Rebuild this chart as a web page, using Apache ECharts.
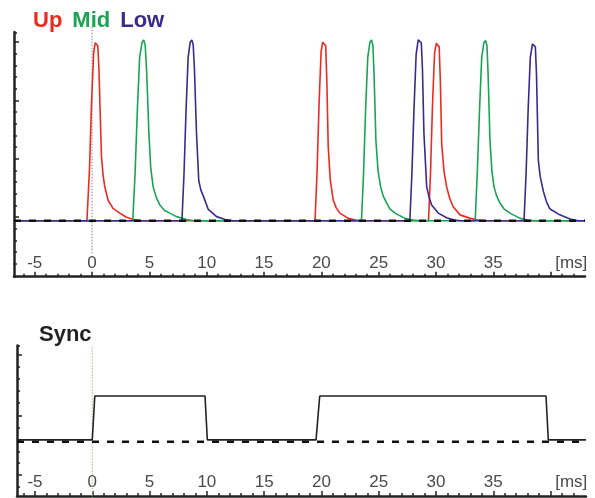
<!DOCTYPE html>
<html>
<head>
<meta charset="utf-8">
<script src="https://cdn.jsdelivr.net/npm/echarts@6/dist/echarts.min.js"></script>
<style>
html,body{margin:0;padding:0;background:#fff;}
#main{width:595px;height:498px;}
</style>
</head>
<body>
<div id="main"></div>
<script>
// ---- data ----
const seriesNames = ['Up', 'Mid', 'Low'];
const upData = [
  [-6.81,0],[-0.45,0],[-0.22,0.9],[-0.05,2.0],[0.14,2.88],[0.27,3.05],[0.38,3.07],[0.5,3.0],[0.6,2.6],[0.7,1.9],[0.82,1.1],[0.96,0.78],[1.11,0.58],[1.4,0.35],[1.83,0.21],[2.42,0.13],[3.0,0.06],[3.6,0.02],[4.3,0],
  [19.45,0],[19.62,0.8],[19.8,2.0],[19.98,2.9],[20.12,3.06],[20.25,3.09],[20.38,3.0],[20.48,2.4],[20.6,1.27],[20.78,0.7],[21.04,0.35],[21.3,0.22],[21.62,0.13],[22.35,0.04],[23.0,0.01],[23.6,0],
  [29.35,0],[29.52,0.8],[29.7,2.0],[29.88,2.88],[30.03,3.04],[30.15,3.06],[30.28,2.98],[30.38,2.4],[30.5,1.32],[30.7,0.85],[30.93,0.58],[31.2,0.38],[31.5,0.24],[32.1,0.1],[33.0,0.04],[33.7,0.01],[34.3,0],
  [43.0,0]
];
const midData = [
  [-6.81,0],[3.55,0],[3.75,0.8],[3.95,1.9],[4.15,2.8],[4.35,3.05],[4.51,3.1],[4.64,3.0],[4.75,2.6],[4.85,2.1],[4.95,1.53],[5.12,0.9],[5.33,0.58],[5.6,0.4],[5.91,0.27],[6.3,0.18],[6.78,0.13],[7.37,0.07],[8.24,0.02],[8.9,0],
  [23.5,0],[23.68,0.8],[23.86,1.9],[24.05,2.8],[24.24,3.06],[24.38,3.1],[24.5,3.0],[24.6,2.5],[24.76,1.38],[24.95,0.85],[25.17,0.58],[25.4,0.42],[25.7,0.3],[26.0,0.2],[26.42,0.13],[27.3,0.04],[28.0,0.01],[28.6,0],
  [33.42,0],[33.6,0.8],[33.8,1.9],[33.99,2.8],[34.18,3.05],[34.33,3.09],[34.45,3.0],[34.55,2.5],[34.71,1.38],[34.88,0.85],[35.06,0.58],[35.3,0.42],[35.59,0.3],[35.95,0.2],[36.46,0.13],[37.33,0.04],[38.0,0.01],[38.6,0],
  [43.0,0]
];
const lowData = [
  [-6.81,0],[7.84,0],[8.02,0.8],[8.2,1.9],[8.38,2.8],[8.56,3.06],[8.7,3.1],[8.82,3.02],[8.93,2.6],[9.02,2.05],[9.11,1.5],[9.31,0.68],[9.5,0.52],[9.75,0.4],[10.12,0.2],[10.86,0.07],[11.6,0.02],[12.3,0],
  [27.72,0],[27.9,0.8],[28.08,1.9],[28.27,2.85],[28.45,3.1],[28.6,3.13],[28.72,3.05],[28.82,2.6],[28.95,1.5],[29.19,0.58],[29.4,0.4],[29.62,0.27],[30.2,0.13],[30.93,0.05],[31.6,0.01],[32.2,0],
  [37.68,0],[37.86,0.8],[38.04,1.9],[38.23,2.8],[38.42,3.03],[38.55,3.06],[38.67,2.98],[38.77,2.5],[38.93,1.03],[39.1,0.75],[39.37,0.5],[39.65,0.32],[39.95,0.2],[40.8,0.1],[41.7,0.03],[42.4,0],
  [43.0,0]
];
const syncData = [
  [-6.57,0.03],[0.0,0.03],[0.22,0.76],[9.84,0.76],[10.04,0.03],[19.53,0.03],[19.85,0.76],[39.6,0.76],[39.8,0.03],[43.09,0.03]
];
const topBaseline = [[-6.81,0],[43.0,0]];
const bottomBaseline = [[-6.57,0],[43.09,0]];
const topMarker = [[0,-0.56],[0,3.32]];
const bottomMarker = [[0,-0.95],[0,1.6]];

// tick values and labels
const xMinorTicks = [-6,-4,-3,-2,-1,1,2,3,4,6,7,8,9,11,12,13,14,16,17,18,19,21,22,23,24,26,27,28,29,31,32,33,34,36,37,38,39,41,42];
const xMajorTicks = [-5,0,5,10,15,20,25,30,35,40];
const xLabelValues = [-5,0,5,10,15,20,25,30,35,41.8];
const xLabelTexts = ['-5','0','5','10','15','20','25','30','35','[ms]'];
const topYMinorTicks = [-0.74,-0.54,-0.34,-0.14,0.26,0.46,0.66,0.86,1.26,1.46,1.66,1.86,2.26,2.46,2.66,2.86,3.23];
const topYMajorTicks = [0.06,1.06,2.06,3.06];
const botYMinorTicks = [-0.755,-0.355,-0.165,0.035,0.235,0.645,0.845,1.045,1.245,1.6];
const botYMajorTicks = [-0.555,0.435,1.445];

const colors = { Up:'#ee2a1e', Mid:'#19a453', Low:'#3a2a8c' };
const FONT = 'Liberation Sans, Arial, sans-serif';

function xAxisPair(gridIndex, min, max) {
  return [
    {
      type:'value', gridIndex, min, max, position:'bottom',
      axisLine:{show:true, onZero:false, lineStyle:{color:'#222', width:2.5}},
      axisTick:{show:true, inside:true, length:3, customValues:xMinorTicks, lineStyle:{color:'#222', width:1.5}},
      axisLabel:{show:true, inside:true, margin:5, customValues:xLabelValues,
        formatter:function(v){ const i = xLabelValues.indexOf(v); return i>=0 ? xLabelTexts[i] : ''; },
        color:'#4a4a4a', fontSize:17, fontFamily:FONT},
      splitLine:{show:false}
    },
    {
      type:'value', gridIndex, min, max, position:'bottom',
      axisLine:{show:false, onZero:false},
      axisTick:{show:true, inside:true, length:5, customValues:xMajorTicks, lineStyle:{color:'#222', width:1.5}},
      axisLabel:{show:false},
      splitLine:{show:false}
    }
  ];
}
function yAxisPair(gridIndex, min, max, minor, major) {
  return [
    {
      type:'value', gridIndex, min, max, position:'left',
      axisLine:{show:true, onZero:false, lineStyle:{color:'#222', width:2.5}},
      axisTick:{show:true, inside:true, length:3, customValues:minor, lineStyle:{color:'#222', width:1.5}},
      axisLabel:{show:false}, splitLine:{show:false}
    },
    {
      type:'value', gridIndex, min, max, position:'left',
      axisLine:{show:false, onZero:false},
      axisTick:{show:true, inside:true, length:5, customValues:major, lineStyle:{color:'#222', width:1.5}},
      axisLabel:{show:false}, splitLine:{show:false}
    }
  ];
}

const lineBase = { type:'line', showSymbol:false, symbol:'none', animation:false, silent:true };

const option = {
  animation:false,
  backgroundColor:'#fff',
  title:{ text:'Sync', left:39, top:324, padding:0,
    textStyle:{ color:'#222', fontSize:22, fontWeight:'bold', fontFamily:FONT } },
  legend:{
    data: seriesNames.map(n => ({ name:n, icon:'none', textStyle:{ color:colors[n] } })),
    left:28, top:10, itemWidth:0, itemHeight:10, itemGap:5, padding:0,
    selectedMode:false,
    textStyle:{ fontSize:22, fontWeight:'bold', fontFamily:FONT }
  },
  grid:[
    { left:14, top:32, width:571, height:244.7 },
    { left:17, top:345.5, width:569, height:150.5 }
  ],
  xAxis:[ ...xAxisPair(0, -6.81, 43.0), ...xAxisPair(1, -6.57, 43.09) ],
  yAxis:[ ...yAxisPair(0, -0.96, 3.235, topYMinorTicks, topYMajorTicks),
          ...yAxisPair(1, -0.905, 1.6, botYMinorTicks, botYMajorTicks) ],
  series:[
    { ...lineBase, name:'marker0', xAxisIndex:0, yAxisIndex:0, data:topMarker, clip:false,
      lineStyle:{ color:'#999', width:1.2, type:[1.5,1.5] }, z:1 },
    { ...lineBase, name:'Up', xAxisIndex:0, yAxisIndex:0, data:upData, color:colors.Up,
      lineStyle:{ color:colors.Up, width:1.6 }, z:2 },
    { ...lineBase, name:'Mid', xAxisIndex:0, yAxisIndex:0, data:midData, color:colors.Mid,
      lineStyle:{ color:colors.Mid, width:1.6 }, z:3 },
    { ...lineBase, name:'Low', xAxisIndex:0, yAxisIndex:0, data:lowData, color:colors.Low,
      lineStyle:{ color:colors.Low, width:1.6 }, z:4 },
    { ...lineBase, name:'base0', xAxisIndex:0, yAxisIndex:0, data:topBaseline,
      lineStyle:{ color:'#111', width:2.5, type:[7,8] }, z:5 },

    { ...lineBase, name:'marker1', xAxisIndex:2, yAxisIndex:2, data:bottomMarker, clip:false,
      lineStyle:{ color:'#8fd89a', width:1.2, type:[1.5,1.5] }, z:1 },
    { ...lineBase, name:'Sync', xAxisIndex:2, yAxisIndex:2, data:syncData,
      lineStyle:{ color:'#222', width:1.6 }, z:3 },
    { ...lineBase, name:'base1', xAxisIndex:2, yAxisIndex:2, data:bottomBaseline,
      lineStyle:{ color:'#111', width:2.5, type:[7,8] }, z:5 }
  ]
};

const chart = echarts.init(document.getElementById('main'), null, { renderer:'canvas' });
chart.setOption(option);
</script>
</body>
</html>
